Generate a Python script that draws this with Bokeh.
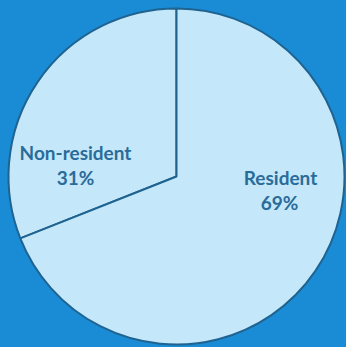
from bokeh.plotting import figure
from bokeh.models import Range1d, ColumnDataSource, GlobalInlineStyleSheet
from bokeh.core.properties import value
from bokeh.embed import file_html
from bokeh.resources import INLINE
import math

# data
categories = ["Non-resident", "Resident"]
shares = [31, 69]

BG = "#1a8cd6"
FILL = "#c4e7fa"
EDGE = "#1f6390"
TXT = "#2a6c99"

W, H = 346, 347
cx, cy = 176, H - 176
R = 168

# angles: start at 90 deg, counter-clockwise
starts, ends = [], []
a = 90.0
for s in shares:
    starts.append(math.radians(a))
    a += s / 100 * 360
    ends.append(math.radians(a))

src = ColumnDataSource(dict(cat=categories, share=shares, start=starts, end=ends,
                            x=[cx] * len(categories), y=[cy] * len(categories)))

p = figure(width=W, height=H, output_backend="svg", toolbar_location=None,
           x_range=Range1d(0, W), y_range=Range1d(0, H),
           min_border=0, background_fill_color=BG, border_fill_color=BG,
           outline_line_color=None)
p.axis.visible = False
p.grid.visible = False
p.stylesheets = [GlobalInlineStyleSheet(css="html,body{background:%s;}" % BG)]

p.wedge(x="x", y="y", radius=R, start_angle="start", end_angle="end",
        source=src, fill_color=FILL, line_color=EDGE, line_width=2)

# label placement (layout offsets from pie centre)
name_off = [(-101, 24), (104, -1)]
pct_off = [(-101, -1), (103, -26)]
lx = [cx + o[0] for o in name_off]
ly = [cy + o[1] for o in name_off]
px_ = [cx + o[0] for o in pct_off]
py_ = [cy + o[1] for o in pct_off]
p.text(x=lx, y=ly, text=categories, text_font=value("Lato"), text_font_style="bold",
       text_font_size="19px", text_color=TXT, text_align="center", text_baseline="middle")
p.text(x=px_, y=py_, text=[f"{s}%" for s in shares], text_font=value("Lato"),
       text_font_style="bold", text_font_size="19px", text_color=TXT,
       text_align="center", text_baseline="middle")

open("out.html", "w").write(file_html(p, INLINE))
